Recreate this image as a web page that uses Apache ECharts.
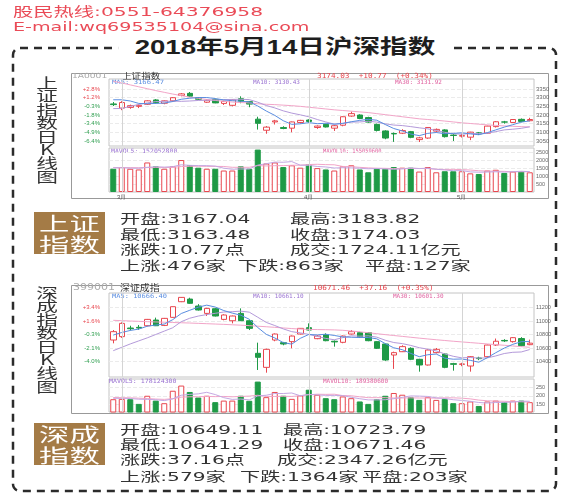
<!DOCTYPE html>
<html>
<head>
<meta charset="utf-8">
<script src="https://cdn.jsdelivr.net/npm/echarts@6/dist/echarts.min.js"></script>
<style>
html, body { margin: 0; padding: 0; background: #fff; }
#wrap { position: relative; width: 565px; height: 500px; overflow: hidden; }
#chart { position: absolute; left: 0; top: 0; width: 565px; height: 500px; }
.t { position: absolute; white-space: nowrap; font-family: "DejaVu Sans", "Noto Sans CJK SC", sans-serif; transform-origin: 0 50%; }
.box { position: absolute; background: #a47b46; }
</style>
</head>
<body>
<div id="wrap">
  <div id="chart"></div>
  <div id="texts"></div>
</div>
<script>
// trading days shown on both K-line charts (2018)
const dates = ['02-28','03-01','03-02','03-05','03-06','03-07','03-08','03-09','03-12','03-13',
  '03-14','03-15','03-16','03-19','03-20','03-21','03-22','03-23','03-26','03-27',
  '03-28','03-29','03-30','04-02','04-03','04-04','04-09','04-10','04-11','04-12',
  '04-13','04-16','04-17','04-18','04-19','04-20','04-23','04-24','04-25','04-26',
  '04-27','05-02','05-03','05-04','05-07','05-08','05-09','05-10','05-11','05-14']
const monthStarts = [1, 23, 41]
const monthNames = ['3月', '4月', '5月']

// 上证指数
const shOpen = [3264,3240,3244,3250,3262,3287,3268,3282,3313,3325, 3300,3274,3290,3267,3256,3294,3277,3176,3112,3160,
  3128,3124,3157,3171,3128,3146,3124,3141,3194,3200, 3185,3146,3108,3093,3095,3104,3058,3067,3107,3114,
  3084,3078,3072,3097,3095,3133,3160,3157,3175,3167.04]
const shClose = [3260,3272,3254,3256,3282,3271,3282,3300,3322,3309, 3291,3285,3270,3279,3288,3280,3263,3152,3130,3166,
  3122,3160,3169,3163,3136,3131,3138,3190,3208,3180, 3159,3111,3067,3091,3110,3071,3068,3128,3117,3075,
  3082,3081,3101,3091,3136,3161,3159,3174,3163,3174.03]
const shHigh = [3275,3280,3260,3262,3285,3292,3285,3303,3327,3333, 3304,3290,3295,3282,3290,3308,3280,3190,3136,3172,
  3135,3162,3172,3175,3140,3150,3142,3192,3220,3204, 3190,3150,3112,3099,3118,3108,3074,3130,3122,3118,
  3090,3092,3103,3102,3138,3165,3166,3176,3180,3183.82]
const shLow = [3252,3228,3236,3240,3258,3266,3262,3275,3308,3305, 3286,3270,3268,3258,3250,3268,3245,3116,3092,3145,
  3118,3100,3150,3155,3120,3128,3108,3135,3190,3176, 3155,3105,3060,3045,3090,3066,3044,3063,3100,3070,
  3050,3070,3055,3085,3092,3128,3150,3155,3158,3163.48]
const shMA5 = [3288,3288,3281,3267,3265,3267,3269,3278,3291,3297, 3301,3301,3295,3287,3283,3280,3276,3252,3223,3198,
  3167,3146,3149,3156,3150,3152,3147,3152,3161,3169, 3175,3170,3145,3122,3108,3090,3081,3094,3099,3092,
  3094,3097,3091,3086,3098,3114,3130,3144,3159,3166]
const shMA10 = [3237,3238,3250,3261,3270,3278,3279,3280,3279,3281, 3284,3285,3287,3289,3290,3291,3289,3274,3255,3241,
  3224,3211,3201,3190,3174,3160,3147,3151,3159,3160, 3164,3159,3149,3142,3139,3133,3126,3120,3111,3100,
  3092,3089,3093,3093,3095,3104,3114,3118,3123,3132]
const shMA30 = [3395,3385,3374,3363,3352,3341,3331,3321,3312,3303, 3296,3290,3284,3279,3275,3272,3270,3265,3262,3260,
  3257,3254,3250,3245,3240,3235,3230,3226,3222,3218, 3214,3208,3202,3196,3190,3184,3178,3174,3170,3165,
  3160,3155,3151,3147,3143,3140,3137,3135,3133,3131]
const shVol = [1480,1587,1480,1434,1880,1634,1480,1634,2034,1700, 1547,1480,1480,1367,1367,1634,1480,2700,1814,1880,
  1587,1700,1547,1767,1520,1434,1367,1634,1700,1434, 1254,1480,1480,1587,1547,1547,1300,1587,1254,1320,
  1320,1320,1187,1147,1367,1414,1214,1300,1300,1254]
const shVolMA5 = [1540,1540,1520,1510,1572,1603,1582,1612,1732,1696, 1679,1679,1648,1515,1448,1466,1466,1710,1799,1902,
  1892,1936,1706,1696,1624,1594,1527,1544,1531,1514, 1478,1500,1470,1447,1470,1528,1492,1514,1447,1402,
  1356,1360,1280,1259,1268,1287,1266,1288,1319,1296]
const shVolMA10 = [1560,1555,1550,1545,1556,1572,1561,1566,1621,1634, 1641,1631,1630,1624,1572,1573,1573,1679,1657,1675,
  1679,1701,1708,1748,1763,1743,1732,1625,1614,1569, 1536,1514,1507,1489,1492,1503,1496,1492,1447,1436,
  1442,1426,1397,1353,1335,1322,1313,1284,1289,1282]

// 深证成指
const szOpen = [10718,10768,10896,10906,10930,11014,10935,11054,11286,11325, 11222,11113,11182,11024,11004,11113,11004,10521,10313,10718,
  10679,10694,10807,10901,10738,10797,10700,10684,10807,10827, 10827,10694,10659,10496,10545,10595,10432,10348,10531,10511,
  10368,10358,10333,10452,10471,10644,10712,10694,10740,10649.11]
const szClose = [10842,10965,10886,10896,11024,10930,11039,11212,11350,11262, 11163,11187,11074,11089,11074,11004,10891,10462,10580,10807,
  10659,10777,10891,10866,10777,10708,10690,10777,10842,10758, 10708,10595,10422,10531,10620,10432,10348,10570,10580,10313,
  10358,10363,10471,10442,10644,10700,10705,10753,10634,10671.46]
const szHigh = [10866,10980,10930,10940,11030,11050,11045,11215,11355,11345, 11250,11195,11195,11100,11080,11187,11010,10679,10590,10815,
  10690,10785,10895,10965,10790,10817,10712,10785,10866,10840, 10835,10700,10665,10545,10640,10610,10440,10580,10600,10520,
  10380,10380,10480,10470,10650,10740,10730,10760,10760,10723.79]
const szLow = [10669,10750,10860,10870,10920,10925,10925,11050,11280,11255, 11155,11075,11068,11010,10965,11000,10866,10274,10234,10700,
  10640,10595,10800,10860,10730,10700,10620,10670,10800,10750, 10700,10585,10410,10290,10540,10420,10249,10340,10520,10300,
  10264,10330,10249,10420,10460,10630,10690,10680,10625,10641.29]
const szMA5 = [10792,10830,10860,10880,10923,10940,10955,11020,11111,11159, 11205,11235,11207,11155,11117,11086,11026,10904,10802,10749,
  10680,10657,10743,10800,10794,10804,10786,10764,10759,10755, 10755,10736,10665,10603,10575,10520,10471,10500,10510,10449,
  10434,10437,10417,10389,10456,10530,10598,10654,10693,10698]
const szMA10 = [10560,10610,10660,10705,10750,10800,10850,10900,10990,11041, 11073,11095,11114,11133,11138,11146,11131,11056,10979,10933,
  10883,10842,10824,10801,10772,10742,10722,10754,10780,10775, 10780,10761,10715,10681,10665,10638,10604,10583,10557,10512,
  10477,10454,10459,10450,10453,10482,10518,10536,10541,10577]
const szMA30 = [11010,11005,11000,10995,10990,10986,10982,10978,10974,10970, 10965,10960,10955,10950,10944,10938,10931,10923,10915,10906,
  10897,10888,10880,10876,10873,10871,10868,10862,10852,10840, 10826,10812,10798,10785,10772,10759,10746,10734,10722,10711,
  10700,10690,10680,10670,10660,10650,10640,10630,10620,10610]
const szVol = [180,182,180,153,200,172,157,229,259,222, 190,200,163,172,172,200,171,282,192,222,
  200,182,202,235,206,186,180,196,186,167, 153,180,200,216,206,192,176,192,176,182,
  157,157,167,141,167,172,163,172,172,163]
const szVolMA5 = [185,185,184,180,179,177,172,182,203,208, 211,220,207,189,179,181,176,199,203,213,
  213,216,200,208,205,202,202,201,191,183, 176,176,177,183,191,199,198,196,188,184,
  177,173,168,161,158,161,162,163,169,168]
const szVolMA10 = [190,189,188,186,184,181,179,183,192,194, 194,196,195,196,194,196,198,203,196,196,
  197,196,200,206,209,208,209,201,200,194, 189,189,189,187,187,188,187,187,186,188,
  188,186,182,175,171,169,168,166,165,163]

// axis ticks and their labels
const shTicks = [3050, 3100, 3150, 3200, 3250, 3300, 3350]
const shPct = ['-6.4%', '-4.9%', '-3.4%', '-1.8%', '-0.3%', '+1.2%', '+2.8%']
const szTicks = [10400, 10600, 10800, 11000, 11200]
const szPct = ['-4.0%', '-2.1%', '-0.3%', '+1.6%', '+3.4%']
const shVolTicks = [500, 1000, 1500, 2000, 2500]
const szVolTicks = [150, 200, 250]

// text blocks
const shStats = ['开盘:3167.04', '最高:3183.82', '最低:3163.48', '收盘:3174.03', '涨跌:10.77点', '成交:1724.11亿元',
  '上涨:476家', '下跌:863家', '平盘:127家']
const szStats = ['开盘:10649.11', '最高:10723.79', '最低:10641.29', '收盘:10671.46', '涨跌:37.16点', '成交:2347.26亿元',
  '上涨:579家', '下跌:1364家', '平盘:203家']

const upColor = '#e8474f'
const downColor = '#1e9a46'
const green = '#2e9e4f'
const ma5Color = '#5a8de0'
const ma10Color = '#b49ada'
const ma30Color = '#f2a5c8'

const candles = (o, c, l, h) => o.map((v, i) => [v, c[i], l[i], h[i]])
const volBars = (vol, o, c) => vol.map((v, i) => ({
  value: v,
  itemStyle: c[i] >= o[i]
    ? { color: '#fff', borderColor: upColor, borderWidth: 1 }
    : { color: downColor, borderColor: downColor, borderWidth: 1 }
}))

const monthLines = {
  symbol: 'none',
  silent: true,
  label: { show: false },
  lineStyle: { color: '#d4d4d4', type: 'solid', width: 1 },
  data: monthStarts.map(i => ({ xAxis: dates[i] }))
}

const xAx = (gridIndex, showLabel) => ({
  type: 'category',
  gridIndex,
  data: dates,
  boundaryGap: true,
  axisLine: { show: false },
  axisTick: { show: false },
  splitLine: { show: false },
  axisLabel: {
    show: showLabel,
    interval: (i) => monthStarts.includes(i),
    formatter: (v, i) => monthNames[monthStarts.indexOf(i)] || '',
    fontSize: 6,
    color: '#555',
    margin: 2,
    fontFamily: 'Liberation Sans'
  }
})

const rightAx = (gridIndex, min, max, ticks, size) => ({
  type: 'value',
  gridIndex,
  position: 'right',
  min, max,
  axisLine: { show: false },
  axisTick: { show: false, customValues: ticks },
  axisLabel: {
    customValues: ticks,
    formatter: (v) => String(v),
    fontSize: size,
    color: '#666',
    margin: 2,
    fontFamily: 'Liberation Sans'
  },
  splitLine: { show: true, lineStyle: { color: '#ebebeb', type: 'dashed', width: 1 } }
})

const leftAx = (gridIndex, min, max, ticks, labels) => ({
  type: 'value',
  gridIndex,
  position: 'left',
  min, max,
  axisLine: { show: false },
  axisTick: { show: false, customValues: ticks },
  splitLine: { show: false },
  axisLabel: {
    customValues: ticks,
    fontSize: 6,
    margin: 9,
    fontFamily: 'Liberation Sans',
    formatter: (v) => labels[ticks.indexOf(Number(v))] || '',
    color: (v) => ((labels[ticks.indexOf(Number(v))] || '').charAt(0) === '+' ? upColor : green)
  }
})

const line = (name, data, x, y, color) => ({
  name, type: 'line', data, xAxisIndex: x, yAxisIndex: y,
  symbol: 'none', silent: true, smooth: false,
  lineStyle: { color, width: 1 }
})

const tiny = (text, x, y, size, sx, color, family) => ({
  type: 'text', x, y, scaleX: sx, silent: true,
  style: { text, fill: color, font: size + 'px "' + family + '"', textVerticalAlign: 'middle' }
})

const candleStyle = { color: '#fff', color0: downColor, borderColor: upColor, borderColor0: downColor, borderWidth: 1 }
const gridBase = { show: true, borderColor: '#c4c4c4', borderWidth: 1, containLabel: false, outerBoundsMode: 'none' }

const chart = echarts.init(document.getElementById('chart'))
chart.setOption({
  animation: false,
  backgroundColor: '#fff',
  grid: [
    { ...gridBase, left: 109, top: 79, width: 425, height: 67 },
    { ...gridBase, left: 109, top: 148, width: 425, height: 44 },
    { ...gridBase, left: 109, top: 293, width: 425, height: 84 },
    { ...gridBase, left: 109, top: 379, width: 425, height: 33 }
  ],
  xAxis: [xAx(0, false), xAx(1, true), xAx(2, false), xAx(3, false)],
  yAxis: [
    rightAx(0, 3021, 3408, shTicks, 6),
    leftAx(0, 3021, 3408, shTicks, shPct),
    rightAx(1, 0, 2800, shVolTicks, 5.5),
    rightAx(2, 10170, 11415, szTicks, 5.5),
    leftAx(2, 10170, 11415, szTicks, szPct),
    rightAx(3, 106, 297, szVolTicks, 5.5)
  ],
  graphic: [
    // outer dashed border
    { type: 'rect', shape: { x: 13, y: 48, width: 543, height: 443, r: 7 }, silent: true,
      style: { fill: 'none', stroke: '#2b2b2b', lineWidth: 2.5, lineDash: [8, 6] } },
    // chart panels
    { type: 'rect', shape: { x: 71.5, y: 73.5, width: 477, height: 125 }, silent: true,
      style: { fill: 'none', stroke: '#999', lineWidth: 1 } },
    { type: 'rect', shape: { x: 71.5, y: 285.5, width: 477, height: 128 }, silent: true,
      style: { fill: 'none', stroke: '#999', lineWidth: 1 } },
    tiny('1A0001', 72, 76, 7, 1.3, '#aaa', 'DejaVu Sans'),
    tiny('上证指数', 122, 76, 8, 1.2, '#333', 'Noto Sans CJK SC'),
    tiny('3174.03  +10.77  (+0.34%)', 317, 76, 7, 1.1, upColor, 'DejaVu Sans Mono'),
    tiny('MA5: 3166.47', 112, 82, 6, 1.2, ma5Color, 'DejaVu Sans Mono'),
    tiny('MA10: 3130.43', 253, 82, 6, 1.0, '#9a72d2', 'DejaVu Sans Mono'),
    tiny('MA30: 3131.92', 395, 82, 6, 1.0, '#e0609f', 'DejaVu Sans Mono'),
    tiny('MAVOL5: 152052800', 111, 151, 6, 1.08, '#9a72d2', 'DejaVu Sans Mono'),
    tiny('MAVOL10: 155059600', 323, 151, 6, 0.9, '#e0609f', 'DejaVu Sans Mono'),
    tiny('399001', 73, 288, 8, 1.38, '#aaa', 'DejaVu Sans'),
    tiny('深证成指', 120, 288, 9, 1.1, '#333', 'Noto Sans CJK SC'),
    tiny('10671.46  +37.16  (+0.35%)', 313, 288, 7, 1.1, upColor, 'DejaVu Sans Mono'),
    tiny('MA5: 10666.40', 112, 296, 6, 1.17, ma5Color, 'DejaVu Sans Mono'),
    tiny('MA10: 10661.10', 253, 296, 6, 1.0, '#9a72d2', 'DejaVu Sans Mono'),
    tiny('MA30: 10601.30', 393, 296, 6, 1.0, '#e0609f', 'DejaVu Sans Mono'),
    tiny('MAVOL5: 178124300', 109, 381, 6, 1.1, '#9a72d2', 'DejaVu Sans Mono'),
    tiny('MAVOL10: 189380600', 323, 381, 6, 1.0, '#e0609f', 'DejaVu Sans Mono')
  ],
  series: [
    { type: 'candlestick', xAxisIndex: 0, yAxisIndex: 0, barWidth: 6, silent: true,
      data: candles(shOpen, shClose, shLow, shHigh), itemStyle: candleStyle, markLine: monthLines },
    line('MA30', shMA30, 0, 0, ma30Color),
    line('MA10', shMA10, 0, 0, ma10Color),
    line('MA5', shMA5, 0, 0, ma5Color),
    { type: 'bar', xAxisIndex: 1, yAxisIndex: 2, barWidth: 6, silent: true,
      data: volBars(shVol, shOpen, shClose), markLine: monthLines },
    line('MAVOL10', shVolMA10, 1, 2, '#f2a5c8'),
    line('MAVOL5', shVolMA5, 1, 2, '#c4a8e2'),

    { type: 'candlestick', xAxisIndex: 2, yAxisIndex: 3, barWidth: 6, silent: true,
      data: candles(szOpen, szClose, szLow, szHigh), itemStyle: candleStyle, markLine: monthLines },
    line('MA30', szMA30, 2, 3, ma30Color),
    line('MA10', szMA10, 2, 3, ma10Color),
    line('MA5', szMA5, 2, 3, ma5Color),
    { type: 'bar', xAxisIndex: 3, yAxisIndex: 5, barWidth: 6, silent: true,
      data: volBars(szVol, szOpen, szClose), markLine: monthLines },
    line('MAVOL10', szVolMA10, 3, 5, '#f2a5c8'),
    line('MAVOL5', szVolMA5, 3, 5, '#c4a8e2')
  ]
})

// page texts (html overlay)
const layer = document.getElementById('texts')
const addText = (str, left, cy, size, sx, color, extra) => {
  const d = document.createElement('div')
  d.className = 't'
  d.textContent = str
  const lh = Math.round(size * 1.15)
  d.style.left = left + 'px'
  d.style.top = (cy - lh / 2) + 'px'
  d.style.lineHeight = lh + 'px'
  d.style.fontSize = size + 'px'
  d.style.color = color
  d.style.transform = 'scaleX(' + sx + ')'
  Object.assign(d.style, extra || {})
  layer.appendChild(d)
  return d
}

addText('股民热线:0551-64376958', 13, 11, 13, 1.56, '#ea4b57')
addText('E-mail:wq69535104@sina.com', 13, 26, 13, 1.47, '#ea4b57')

addText('2018年5月14日沪深指数', 285, 47, 20, 1.38, '#1e1e1e', {
  fontFamily: '"Liberation Sans", "Noto Sans CJK SC", sans-serif',
  fontWeight: 'bold', background: '#fff', padding: '0 12px',
  transformOrigin: '50% 50%', transform: 'translateX(-50%) scaleX(1.38)'
})

const vertical = (str, cx, top) => {
  const d = document.createElement('div')
  d.className = 't'
  d.innerHTML = Array.from(str).join('<br>')
  Object.assign(d.style, {
    left: (cx - 7) + 'px', top: top + 'px', width: '14px', textAlign: 'center',
    fontSize: '14px', lineHeight: '13.4px', color: '#333',
    fontFamily: '"Noto Sans CJK SC", sans-serif',
    transformOrigin: '50% 0', transform: 'scaleX(1.55)'
  })
  layer.appendChild(d)
}
vertical('上证指数日K线图', 47, 76)
vertical('深成指数日K线图', 47, 286)

const badge = (lines, top) => {
  const b = document.createElement('div')
  b.className = 'box'
  Object.assign(b.style, { left: '34px', top: top + 'px', width: '71px', height: '42px' })
  layer.appendChild(b)
  lines.forEach((s, i) => {
    addText(s, 39, top + 11 + i * 20.5, 19, 1.6, '#fff', { fontFamily: '"Noto Sans CJK SC", sans-serif' })
  })
}
badge(['上证', '指数'], 212)
badge(['深成', '指数'], 423)

const shPos = [[120, 218.5], [290, 218.5], [120, 234], [290, 234], [120, 249.5], [290, 249.5], [120, 265], [238, 265], [365, 265]]
const szPos = [[120, 429], [283, 429], [120, 444], [283, 444], [120, 459.5], [277, 459.5], [120, 476], [240, 476], [362, 476]]
shStats.forEach((s, i) => addText(s, shPos[i][0], shPos[i][1], 13, 1.55, '#333'))
szStats.forEach((s, i) => addText(s, szPos[i][0], szPos[i][1], 13, 1.55, '#333'))
</script>
</body>
</html>
